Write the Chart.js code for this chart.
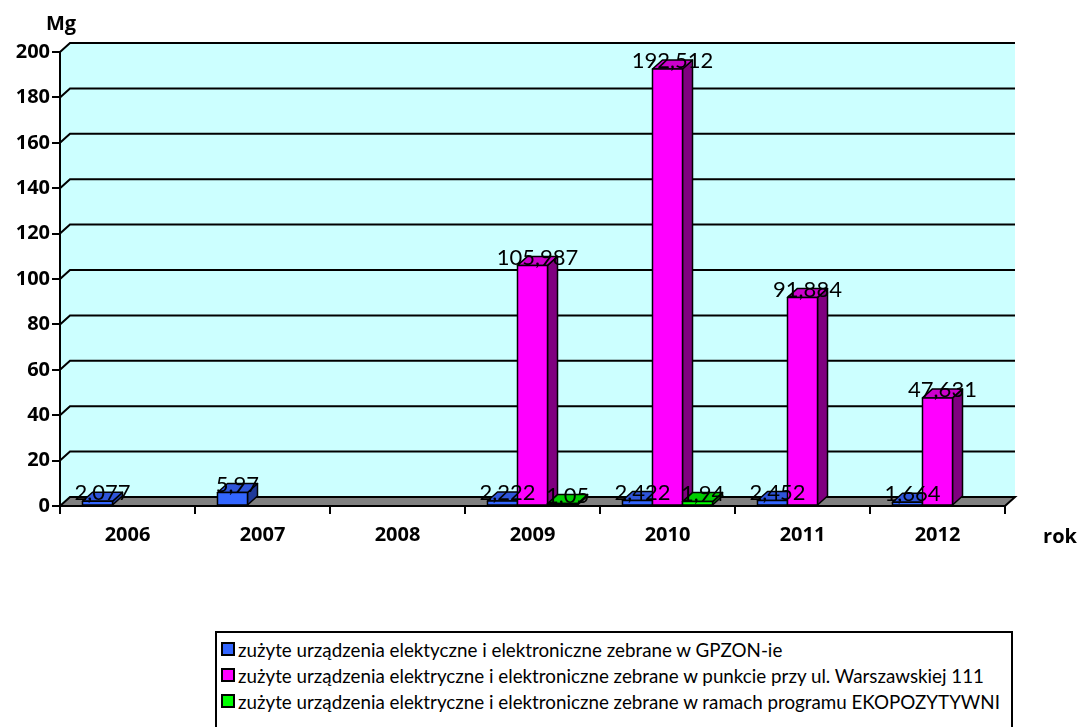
<!DOCTYPE html>
<html>
<head>
<meta charset="utf-8">
<script src="https://cdn.jsdelivr.net/npm/chart.js@4/dist/chart.umd.min.js"></script>
<style>
  html, body { margin: 0; padding: 0; background: #fff; overflow: hidden; }
  #wrap { position: relative; width: 1080px; height: 727px; }
  #legend {
    position: absolute; left: 215px; top: 631px; width: 798px; height: 110px;
    box-sizing: border-box; border: 2px solid #000; background: #fff;
    padding: 3px 0 0 4px; font: 18.8px Lato, sans-serif; color: #000;
  }
  .row { display: flex; align-items: center; height: 26px; white-space: nowrap; }
  .sw { width: 14px; height: 14px; box-sizing: border-box; border: 2px solid #000; margin-right: 3px; }
</style>
</head>
<body>
<div id="wrap">
  <canvas id="chart"></canvas>
  <div id="legend"></div>
</div>
<script>
// dane
const years = ['2006', '2007', '2008', '2009', '2010', '2011', '2012'];
const gpzon = [2.077, 5.97, null, 2.222, 2.422, 2.452, 1.664];
const warszawska = [null, null, null, 105.987, 192.512, 91.884, 47.631];
const ekopozytywni = [null, null, null, 1.05, 1.94, null, null];
const seriesNames = [
  'zużyte urządzenia elektyczne i elektroniczne zebrane w GPZON-ie',
  'zużyte urządzenia elektryczne i elektroniczne zebrane w punkcie przy ul. Warszawskiej 111',
  'zużyte urządzenia elektryczne i elektroniczne zebrane w ramach programu EKOPOZYTYWNI'
];
const yMin = 0, yMax = 200, yStep = 20;

// kolory: przód, góra, bok
const faces = [
  { front: '#3366ff', top: '#2f55d9', side: '#1f3a99' },
  { front: '#ff00ff', top: '#cc00cc', side: '#800080' },
  { front: '#00ff00', top: '#00cc00', side: '#008000' }
];
const DX = 10, DY = 9;
const FONT = 'Lato, sans-serif';
const BOLD = '"Open Sans", sans-serif';

const fmt = v => String(v).replace('.', ',');

// ściana, podłoga, siatka i słupki 3D
const bars3d = {
  id: 'bars3d',
  beforeDraw(chart) {
    const { ctx, chartArea: a, scales: { y } } = chart;
    ctx.save();
    // ściana
    ctx.fillStyle = '#ccffff';
    ctx.beginPath();
    ctx.moveTo(a.left, a.bottom);
    ctx.lineTo(a.left, a.top);
    ctx.lineTo(a.left + DX, a.top - DY);
    ctx.lineTo(a.right + DX, a.top - DY);
    ctx.lineTo(a.right + DX, a.bottom - DY);
    ctx.lineTo(a.right, a.bottom);
    ctx.closePath();
    ctx.fill();
    // siatka
    ctx.strokeStyle = '#000';
    ctx.lineWidth = 2;
    for (let v = yMin + yStep; v <= yMax; v += yStep) {
      const py = y.getPixelForValue(v);
      ctx.beginPath();
      ctx.moveTo(a.left, py);
      ctx.lineTo(a.left + DX, py - DY);
      ctx.lineTo(a.right + DX, py - DY);
      ctx.stroke();
    }
    // podłoga
    const b = y.getPixelForValue(0);
    ctx.fillStyle = '#808080';
    ctx.beginPath();
    ctx.moveTo(a.left, b);
    ctx.lineTo(a.left + DX, b - DY);
    ctx.lineTo(a.right + DX, b - DY);
    ctx.lineTo(a.right, b);
    ctx.closePath();
    ctx.fill();
    ctx.stroke();
    ctx.restore();
  },
  beforeDatasetsDraw(chart) {
    const { ctx } = chart;
    ctx.save();
    ctx.strokeStyle = '#000';
    ctx.lineWidth = 1.5;
    ctx.lineJoin = 'round';
    years.forEach((_, i) => {
      chart.data.datasets.forEach((ds, d) => {
        if (ds.data[i] == null) return;
        const el = chart.getDatasetMeta(d).data[i];
        const { x, y, base, width } = el.getProps(['x', 'y', 'base', 'width'], true);
        const l = x - width / 2, r = x + width / 2;
        const f = faces[d];
        // bok
        ctx.fillStyle = f.side;
        ctx.beginPath();
        ctx.moveTo(r, base); ctx.lineTo(r + DX, base - DY);
        ctx.lineTo(r + DX, y - DY); ctx.lineTo(r, y);
        ctx.closePath(); ctx.fill(); ctx.stroke();
        // góra
        ctx.fillStyle = f.top;
        ctx.beginPath();
        ctx.moveTo(l, y); ctx.lineTo(l + DX, y - DY);
        ctx.lineTo(r + DX, y - DY); ctx.lineTo(r, y);
        ctx.closePath(); ctx.fill(); ctx.stroke();
        // przód
        ctx.fillStyle = f.front;
        ctx.fillRect(l, y, width, base - y);
        ctx.strokeRect(l, y, width, base - y);
      });
    });
    ctx.restore();
    return false;
  },
  afterDraw(chart) {
    const { ctx } = chart;
    ctx.save();
    ctx.fillStyle = '#000';
    ctx.textAlign = 'center';
    ctx.textBaseline = 'middle';
    ctx.font = '22px ' + FONT;
    chart.data.datasets.forEach((ds, d) => {
      chart.getDatasetMeta(d).data.forEach((el, i) => {
        if (ds.data[i] == null) return;
        ctx.fillText(fmt(ds.data[i]), el.x + DX / 2, el.y - 8);
      });
    });
    ctx.font = 'bold 20px ' + BOLD;
    ctx.fillText('Mg', 61, 24);
    ctx.fillText('rok', 1060, 537);
    ctx.restore();
  }
};

function build() {
  const chart = new Chart(document.getElementById('chart'), {
    type: 'bar',
    data: {
      labels: years,
      datasets: [
        { label: seriesNames[0], data: gpzon, backgroundColor: faces[0].front },
        { label: seriesNames[1], data: warszawska, backgroundColor: faces[1].front },
        { label: seriesNames[2], data: ekopozytywni, backgroundColor: faces[2].front }
      ]
    },
    options: {
      responsive: true,
      maintainAspectRatio: false,
      animation: false,
      categoryPercentage: 0.667,
      barPercentage: 1.0,
      layout: { padding: { left: 0, right: 75, top: 52, bottom: 0 } },
      scales: {
        x: {
          grid: { drawOnChartArea: false, drawTicks: true, tickLength: 8, color: '#000', lineWidth: 2 },
          border: { display: true, color: '#000', width: 2 },
          ticks: { color: '#000', font: { family: BOLD, size: 20, weight: 'bold' }, padding: 9 },
          afterFit: s => { s.height = 221; }
        },
        y: {
          min: yMin, max: yMax,
          grid: { drawOnChartArea: false, drawTicks: true, tickLength: 8, color: '#000', lineWidth: 2 },
          border: { display: true, color: '#000', width: 2 },
          ticks: { stepSize: yStep, color: '#000', font: { family: BOLD, size: 20, weight: 'bold' }, padding: 2 },
          afterFit: s => { s.width = 60; }
        }
      },
      plugins: { legend: { display: false }, tooltip: { enabled: false } }
    },
    plugins: [bars3d]
  });

  // legenda
  const legend = document.getElementById('legend');
  chart.data.datasets.forEach((ds, d) => {
    const row = document.createElement('div');
    row.className = 'row';
    const sw = document.createElement('span');
    sw.className = 'sw';
    sw.style.background = faces[d].front;
    const txt = document.createElement('span');
    txt.textContent = ds.label;
    row.appendChild(sw);
    row.appendChild(txt);
    legend.appendChild(row);
  });
}

Promise.all([
  document.fonts.load('bold 20px "Open Sans"'),
  document.fonts.load('22px Lato')
]).then(build, build);
</script>
</body>
</html>
